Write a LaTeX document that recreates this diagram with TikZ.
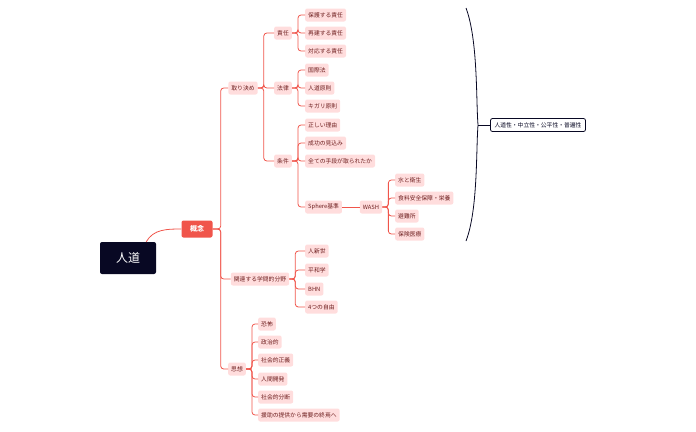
\documentclass[tikz,border=0pt]{standalone}
\usepackage{fontspec}
\setmainfont{Noto Sans CJK JP}
\usetikzlibrary{decorations.pathreplacing}
\definecolor{lr}{RGB}{240,85,75}
\definecolor{pk}{RGB}{255,221,221}
\definecolor{tr}{RGB}{110,30,30}
\definecolor{nv}{RGB}{8,8,35}
\tikzset{
 leaf/.style={fill=pk,text=tr,font=\fontsize{5.8}{7}\selectfont,rounded corners=2pt,inner xsep=3pt,minimum height=13pt,anchor=west},
 mid/.style={leaf,anchor=center},
 conn/.style={draw=lr,line width=0.8pt,rounded corners=3pt},
}
\begin{document}
\begin{tikzpicture}[x=1pt,y=-1pt]
\useasboundingbox (0,0) rectangle (696,431);
\node[fill=nv,text=white,font=\fontsize{12}{14}\selectfont,rounded corners=2pt,minimum width=56pt,minimum height=32pt] (root) at (128,258) {人道};
\node[fill=lr,text=white,font=\bfseries\fontsize{7}{8}\selectfont,rounded corners=2pt,minimum width=31pt,minimum height=17pt] (gn) at (197,229) {概念};
\node[mid] (tk) at (243,88) {取り決め};
\node[mid] (kr) at (260,279) {関連する学問的分野};
\node[mid] (ss) at (237,369) {思想};
\node[mid] (sn) at (283,33) {責任};
\node[mid] (hr) at (283,88) {法律};
\node[mid] (jk) at (283,161) {条件};
\foreach \n/\y/\t in {a1/15/保護する責任,a2/33/再建する責任,a3/51/対応する責任,b1/70/国際法,b2/88/人道原則,b3/106/キガリ原則,c1/125/正しい理由,c2/143/成功の見込み,c3/161/全ての手段が取られたか,c4/207/Sphere基準,d1/251/人新世,d2/270/平和学,d3/289/BHN,d4/307/4つの自由}
  \node[leaf] (\n) at (305,\y) {\t};
\node[mid] (wa) at (371,207) {WASH};
\foreach \n/\y/\t in {w1/180/水と衛生,w2/198/食料安全保障・栄養,w3/216/避難所,w4/234/保険医療}
  \node[leaf] (\n) at (395,\y) {\t};
\foreach \n/\y/\t in {e1/324/恐怖,e2/342/政治的,e3/360/社会的正義,e4/379/人間開発,e5/397/社会的分断,e6/415/援助の提供から需要の終焉へ}
  \node[leaf] (\n) at (258,\y) {\t};
\draw[lr,line width=0.8pt] ([xshift=-10pt]root.north east) to[out=60,in=180] (gn.west);
\foreach \c in {tk,kr,ss} \draw[conn] (gn.east) -- ++(8,0) |- (\c.west);
\foreach \c in {sn,hr,jk} \draw[conn] (tk.east) -- ++(6,0) |- (\c.west);
\foreach \c in {a1,a2,a3} \draw[conn] (sn.east) -- ++(6,0) |- (\c.west);
\foreach \c in {b1,b2,b3} \draw[conn] (hr.east) -- ++(6,0) |- (\c.west);
\foreach \c in {c1,c2,c3,c4} \draw[conn] (jk.east) -- ++(6,0) |- (\c.west);
\foreach \c in {d1,d2,d3,d4} \draw[conn] (kr.east) -- ++(6,0) |- (\c.west);
\foreach \c in {e1,e2,e3,e4,e5,e6} \draw[conn] (ss.east) -- ++(6,0) |- (\c.west);
\draw[conn] (c4.east) -- (wa.west);
\foreach \c in {w1,w2,w3,w4} \draw[conn] (wa.east) -- ++(6,0) |- (\c.west);
\coordinate (bt) at (466,8);
\coordinate (bb) at (466,241);
\draw[nv,line width=0.8pt] (bt) .. controls (478,40) and (476,100) .. (478,125) .. controls (476,150) and (478,210) .. (bb);
\node[draw=nv,line width=0.8pt,fill=white,text=nv,font=\fontsize{5.8}{7}\selectfont,rounded corners=2pt,minimum height=13pt,inner xsep=4pt] (sm) at (538,125) {人道性・中立性・公平性・普遍性};
\draw[nv,line width=0.8pt] (478,125) -- (sm.west);
\end{tikzpicture}
\end{document}
